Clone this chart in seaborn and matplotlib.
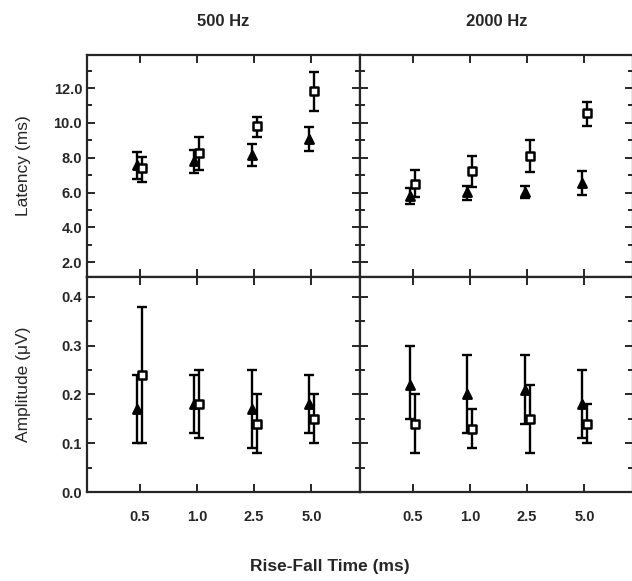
import numpy as np
import pandas as pd
import matplotlib
matplotlib.use("Agg")
import matplotlib.pyplot as plt
import seaborn as sns
from matplotlib.ticker import MultipleLocator

sns.set_style("ticks")
plt.rcParams['font.family'] = ['Liberation Sans', 'DejaVu Sans']

rise_fall = ["0.5", "1.0", "2.5", "5.0"]
freqs = ["500 Hz", "2000 Hz"]

# Latency (ms): triangle series and square series, mean / low / high
lat_tri_500 = [7.6, 7.8, 8.15, 9.05]
lat_tri_500_lo = [6.8, 7.1, 7.5, 8.4]
lat_tri_500_hi = [8.35, 8.45, 8.8, 9.75]
lat_sq_500 = [7.4, 8.25, 9.8, 11.85]
lat_sq_500_lo = [6.6, 7.3, 9.2, 10.7]
lat_sq_500_hi = [8.05, 9.2, 10.35, 12.95]

lat_tri_2000 = [5.8, 6.05, 6.05, 6.55]
lat_tri_2000_lo = [5.35, 5.55, 5.7, 5.85]
lat_tri_2000_hi = [6.25, 6.4, 6.4, 7.25]
lat_sq_2000 = [6.5, 7.25, 8.1, 10.55]
lat_sq_2000_lo = [5.75, 6.3, 7.2, 9.8]
lat_sq_2000_hi = [7.3, 8.1, 9.0, 11.2]

# Amplitude (uV)
amp_tri_500 = [0.17, 0.18, 0.17, 0.18]
amp_tri_500_lo = [0.10, 0.12, 0.09, 0.12]
amp_tri_500_hi = [0.24, 0.24, 0.25, 0.24]
amp_sq_500 = [0.24, 0.18, 0.14, 0.15]
amp_sq_500_lo = [0.10, 0.11, 0.08, 0.10]
amp_sq_500_hi = [0.38, 0.25, 0.20, 0.20]

amp_tri_2000 = [0.22, 0.20, 0.21, 0.18]
amp_tri_2000_lo = [0.15, 0.12, 0.14, 0.11]
amp_tri_2000_hi = [0.30, 0.28, 0.28, 0.25]
amp_sq_2000 = [0.14, 0.13, 0.15, 0.14]
amp_sq_2000_lo = [0.08, 0.09, 0.08, 0.10]
amp_sq_2000_hi = [0.20, 0.17, 0.22, 0.18]

panels = {
    (0, 0): [(lat_tri_500, lat_tri_500_lo, lat_tri_500_hi),
             (lat_sq_500, lat_sq_500_lo, lat_sq_500_hi)],
    (0, 1): [(lat_tri_2000, lat_tri_2000_lo, lat_tri_2000_hi),
             (lat_sq_2000, lat_sq_2000_lo, lat_sq_2000_hi)],
    (1, 0): [(amp_tri_500, amp_tri_500_lo, amp_tri_500_hi),
             (amp_sq_500, amp_sq_500_lo, amp_sq_500_hi)],
    (1, 1): [(amp_tri_2000, amp_tri_2000_lo, amp_tri_2000_hi),
             (amp_sq_2000, amp_sq_2000_lo, amp_sq_2000_hi)],
}

fig = plt.figure(figsize=(6.32, 5.81), dpi=100)
W, H = 632, 581
def pos(x0, y0, x1, y1):
    return [x0 / W, 1 - y1 / H, (x1 - x0) / W, (y1 - y0) / H]

axes = {
    (0, 0): fig.add_axes(pos(87, 55, 360, 277)),
    (0, 1): fig.add_axes(pos(360, 55, 633, 277)),
    (1, 0): fig.add_axes(pos(87, 277, 360, 492)),
    (1, 1): fig.add_axes(pos(360, 277, 633, 492)),
}

styles = [dict(marker="^", mfc="black", mec="black", ms=6, off=-0.045),
          dict(marker="s", mfc="white", mec="black", ms=5.5, off=0.045)]

xs = np.arange(len(rise_fall))
for key, ax in axes.items():
    for (m, lo, hi), st in zip(panels[key], styles):
        m = np.array(m); lo = np.array(lo); hi = np.array(hi)
        xp = xs + st["off"]
        ax.errorbar(xp, m, yerr=[m - lo, hi - m], fmt="none", ecolor="black",
                    elinewidth=1.7, capsize=3.5, capthick=1.7, zorder=2)
        df = pd.DataFrame({"x": xp, "y": m})
        sns.scatterplot(data=df, x="x", y="y", ax=ax, marker=st["marker"],
                        s=st["ms"] ** 2, color=st["mfc"], edgecolor=st["mec"],
                        linewidth=1.8, zorder=3, legend=False)
    ax.set_xlim(-0.92, 3.85)
    ax.set_xticks(xs)
    ax.set_xlabel("")
    ax.set_ylabel("")
    for s in ax.spines.values():
        s.set_linewidth(1.6)
        s.set_visible(True)
    ax.tick_params(which="both", direction="in", top=True, right=True,
                   left=True, bottom=True, width=1.4, labelsize=10.5)
    ax.tick_params(which="major", length=6)
    ax.tick_params(which="minor", length=3.5)
    ax.tick_params(axis="x", pad=13)
    if key[0] == 0:
        ax.set_ylim(1.15, 13.9)
        ax.yaxis.set_minor_locator(MultipleLocator(1))
        ax.set_yticks([2, 4, 6, 8, 10, 12])
        ax.set_yticklabels(["2.0", "4.0", "6.0", "8.0", "10.0", "12.0"])
        ax.tick_params(labelbottom=False)
        ax.set_title(freqs[key[1]], fontsize=12, fontweight="bold", pad=21)
    else:
        ax.set_ylim(0.017, 0.441)
        ax.set_yticks([0.0, 0.1, 0.2, 0.3, 0.4])
        ax.yaxis.set_minor_locator(MultipleLocator(0.05))
        ax.set_yticklabels(["0.0", "0.1", "0.2", "0.3", "0.4"])
        ax.set_xticklabels(rise_fall)
    if key[1] == 1:
        ax.tick_params(labelleft=False)
    for lab in ax.get_xticklabels() + ax.get_yticklabels():
        lab.set_fontweight("bold")

axes[(0, 0)].set_ylabel("Latency (ms)", fontsize=12.5)
axes[(1, 0)].set_ylabel("Amplitude (\u03bcV)", fontsize=12.5)
axes[(0, 0)].yaxis.set_label_coords(-0.205, 0.5)
axes[(1, 0)].yaxis.set_label_coords(-0.205, 0.5)
fig.text(330 / W, 1 - 566 / H, "Rise-Fall Time (ms)", ha="center", va="center",
         fontsize=12.5, fontweight="bold")

fig.savefig("out.png", dpi=100)
